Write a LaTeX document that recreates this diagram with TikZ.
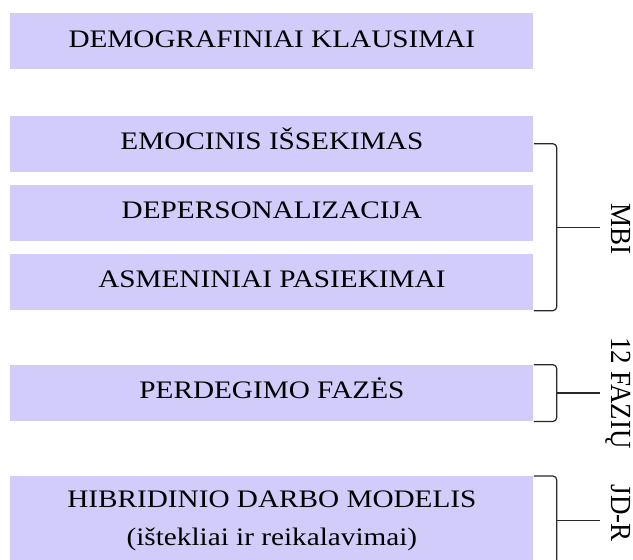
\documentclass[tikz,border=0pt]{standalone}
\usepackage{fontspec}
\setmainfont{Liberation Serif}[FakeStretch=1.16]
\newfontfamily\lblfont{Liberation Serif}
\usepackage{graphicx}
\usetikzlibrary{positioning,calc}
\definecolor{qfill}{RGB}{210,204,251}
\definecolor{brkgray}{RGB}{40,40,40}
\newcommand{\sidelbl}[1]{\scalebox{1}[1.08]{\lblfont #1}}
\tikzset{
  qbox/.style ={rectangle, fill=qfill, draw=none, inner sep=0pt,
                minimum width=261.5pt, minimum height=28pt, align=center,
                text height=8.4pt, text depth=2.7pt,
                font=\fontsize{12.6}{19}\selectfont},
  tallbox/.style={qbox, minimum height=44pt, text height={}, text depth={}},
  lbl/.style  ={rotate=-90, anchor=south, inner sep=5.5pt, text depth=0pt,
                font=\fontsize{13.5}{15}\selectfont},
  brk/.style  ={draw=brkgray, line width=0.6pt, rounded corners=2pt},
}
\begin{document}
\begin{tikzpicture}[x=0.5pt,y=-0.5pt]
\useasboundingbox (0,0) rectangle (633,560);
% question blocks
\node[qbox, anchor=north west] (demo) at (10,13) {DEMOGRAFINIAI KLAUSIMAI};
\node[qbox, below=22.75pt of demo] (emo) {EMOCINIS IŠSEKIMAS};
\node[qbox, below=6.25pt of emo] (dep) {DEPERSONALIZACIJA};
\node[qbox, below=6.25pt of dep] (asm) {ASMENINIAI PASIEKIMAI};
\node[qbox, below=27pt of asm] (faz) {PERDEGIMO FAZĖS};
\node[tallbox, below=27.25pt of faz] (hib) {HIBRIDINIO DARBO MODELIS\\ (ištekliai ir reikalavimai)};
% brackets
\draw[brk] (emo.east) -- ++(23,0) |- (asm.south east);
\coordinate (mbimid) at ($(emo.east)!0.5!(asm.south east)+(23,0)$);
\node[lbl] (mbi) at ($(mbimid)+(43,2)$) {\sidelbl{MBI}};
\draw[brk] (mbimid) -- (mbimid -| mbi.south);
\draw[brk] (faz.north east) -- ++(23,0) |- (faz.south east);
\coordinate (fazmid) at ($(faz.east)+(23,0)$);
\node[lbl] (fazlbl) at ($(fazmid)+(43,0)$) {\sidelbl{12 FAZIŲ}};
\draw[brk] (fazmid) -- (fazlbl.south);
\draw[brk] (hib.north east) -- ++(23,0) |- (hib.south east);
\coordinate (jdrmid) at ($(hib.east)+(23,0)$);
\node[lbl] (jdr) at ($(jdrmid)+(43,-7)$) {\sidelbl{JD-R}};
\draw[brk] (jdrmid) -- (jdrmid -| jdr.south);
\end{tikzpicture}
\end{document}
